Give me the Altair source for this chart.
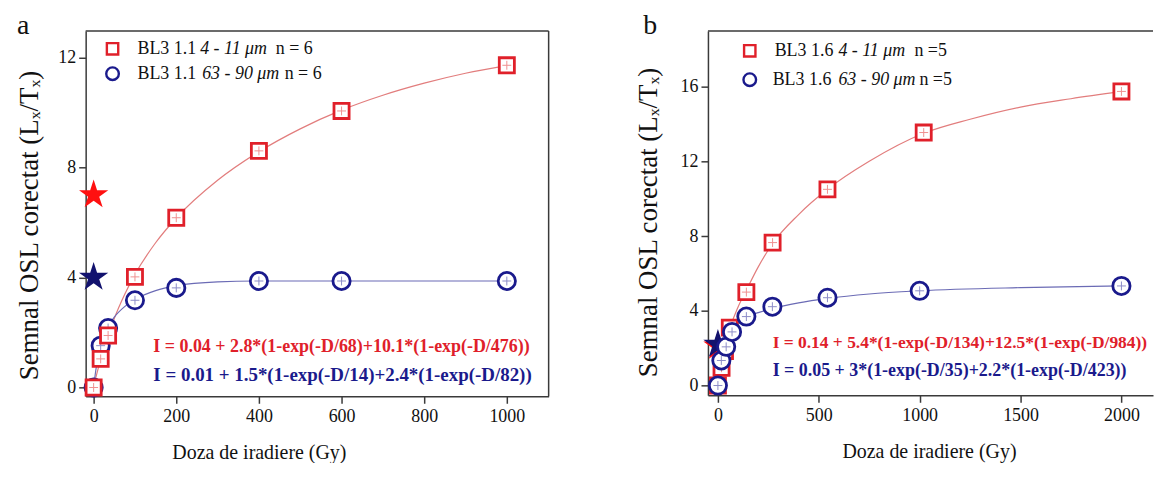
import altair as alt
import pandas as pd

FONT = "Liberation Serif"
RED = "#e0202a"
BLUE = "#1a1a8c"
RED_FIT = "#e27d7d"
BLUE_FIT = "#6b6bb5"
RED_TICK = "#f09090"
BLUE_TICK = "#8c8cc8"
STAR_RED = "#ff1010"
STAR_BLUE = "#12126e"
AXIS_C = "#3a3a3a"
TEXT_C = "#111111"

STAR = ("M0,-1L0.2245,-0.309L0.951,-0.309L0.363,0.118L0.588,0.809L0,0.382"
        "L-0.588,0.809L-0.363,0.118L-0.951,-0.309L-0.2245,-0.309Z")
CROSS = "M-1,0L1,0M0,-1L0,1"

X_TITLE = "Doza de iradiere (Gy)"
Y_TITLE = "Semnal OSL corectat (Lₓ/Tₓ)"

# ---------------- panel a data ----------------
a_dose = [0, 17, 35, 100, 200, 400, 600, 1000]
a_fine = [0.0, 1.04, 1.89, 4.02, 6.17, 8.60, 10.05, 11.71]
a_coarse = [0.0, 1.52, 2.16, 3.17, 3.62, 3.87, 3.87, 3.87]
a_star_red = [7.0]
a_star_blue = [4.0]
a_fitf_dose = [0, 10, 20, 35, 50, 75, 100, 150, 200, 300, 400, 500, 600, 700, 800, 900, 1000]
a_fitf = [0.04, 0.63, 1.17, 1.88, 2.51, 3.38, 4.11, 5.26, 6.16, 7.53, 8.57, 9.40, 10.08, 10.62, 11.06, 11.42, 11.70]
a_fitc_dose = [0, 5, 10, 17, 25, 35, 50, 75, 100, 150, 200, 300, 400, 600, 1000]
a_fitc = [0.01, 0.60, 1.05, 1.51, 1.89, 2.22, 2.56, 2.94, 3.20, 3.52, 3.70, 3.84, 3.87, 3.87, 3.87]

# ---------------- panel b data ----------------
b_fine_dose = [0, 18, 35, 59, 141, 271, 543, 1020, 2000]
b_fine = [0.0, 0.95, 1.85, 3.10, 5.00, 7.65, 10.50, 13.54, 15.74]
b_coarse_dose = [0, 17, 41, 70, 141, 270, 543, 1000, 2000]
b_coarse = [0.0, 1.34, 2.07, 2.87, 3.69, 4.22, 4.70, 5.07, 5.33]
b_star_red = [2.1]
b_star_blue = [2.2]
b_fitf_dose = [0, 10, 20, 35, 60, 100, 141, 200, 271, 400, 543, 750, 1020, 1250, 1500, 1750, 2000]
b_fitf = [0.1, 0.55, 1.05, 1.85, 3.05, 4.2, 5.1, 6.35, 7.6, 9.15, 10.5, 12.0, 13.5, 14.25, 14.9, 15.35, 15.74]
b_fitc_dose = [0, 10, 17, 25, 41, 70, 100, 141, 200, 270, 400, 543, 750, 1000, 1500, 2000]
b_fitc = [0.05, 0.85, 1.29, 1.71, 2.2, 2.95, 3.34, 3.65, 3.9, 4.12, 4.42, 4.66, 4.9, 5.07, 5.24, 5.33]

a_leg = [["BL3 1.1", "4 - 11 μm", "n = 6"], ["BL3 1.1", "63 - 90 μm", "n = 6"]]
b_leg = [["BL3 1.6", "4 - 11 μm", "n =5"], ["BL3 1.6", "63 - 90 μm", "n =5"]]
a_eq = ["I = 0.04 + 2.8*(1-exp(-D/68)+10.1*(1-exp(-D/476))",
        "I = 0.01 + 1.5*(1-exp(-D/14)+2.4*(1-exp(-D/82))"]
b_eq = ["I = 0.14 + 5.4*(1-exp(-D/134)+12.5*(1-exp(-D/984))",
        "I = 0.05 + 3*(1-exp(-D/35)+2.2*(1-exp(-D/423))"]


def frame(d, v):
    return pd.DataFrame({"D": d, "L": v})


def one():
    return pd.DataFrame({"k": [0]})


def txt(s, x, y, size, color=TEXT_C, weight="normal", style="normal", align="left",
        baseline="middle", clip=False):
    return alt.Chart(pd.DataFrame({"t": [s]})).mark_text(
        font=FONT, fontSize=size, color=color, fontWeight=weight, fontStyle=style,
        align=align, baseline=baseline, clip=clip
    ).encode(x=alt.value(x), y=alt.value(y), text="t:N")


def panel(W, H, xdom, ydom, xticks, yticks, title_x, ytp, yty,
          fine_d, fine_v, coarse_d, coarse_v, fitf, fitc, star_r, star_b,
          red_on_top, legend, leg_pos, eqs, eq_pos, eq_size, label, label_x, right_border):
    X = alt.X("D:Q", scale=alt.Scale(domain=xdom, nice=False, zero=False),
              axis=alt.Axis(values=xticks, format="d", title=X_TITLE, titleX=title_x,
                            titlePadding=17, labelPadding=4))
    Y = alt.Y("L:Q", scale=alt.Scale(domain=ydom, nice=False, zero=False),
              axis=alt.Axis(values=yticks, format="d", title=Y_TITLE, titlePadding=ytp,
                            titleY=yty, labelPadding=3))

    layers = []
    layers.append(alt.Chart(frame(*fitf)).mark_line(color=RED_FIT, strokeWidth=1.2,
                                                    interpolate="monotone").encode(x=X, y=Y))
    layers.append(alt.Chart(frame(*fitc)).mark_line(color=BLUE_FIT, strokeWidth=1.2,
                                                    interpolate="monotone").encode(x=X, y=Y))

    def squares():
        return [
            alt.Chart(frame(fine_d, fine_v)).mark_point(
                shape="square", size=230, filled=True, fill="white", stroke=RED,
                strokeWidth=2.8, opacity=1).encode(x=X, y=Y),
            alt.Chart(frame(fine_d, fine_v)).mark_point(
                shape=CROSS, size=80, filled=False, stroke=RED_TICK, strokeWidth=1,
                opacity=1).encode(x=X, y=Y),
        ]

    def circles():
        return [
            alt.Chart(frame(coarse_d, coarse_v)).mark_point(
                shape="circle", size=300, filled=True, fill="white", stroke=BLUE,
                strokeWidth=2.8, opacity=1).encode(x=X, y=Y),
            alt.Chart(frame(coarse_d, coarse_v)).mark_point(
                shape=CROSS, size=80, filled=False, stroke=BLUE_TICK, strokeWidth=1,
                opacity=1).encode(x=X, y=Y),
        ]

    stars = [
        alt.Chart(frame([0], star_r)).mark_point(shape=STAR, size=950, filled=True,
                                                 color=STAR_RED, opacity=1).encode(x=X, y=Y),
        alt.Chart(frame([0], star_b)).mark_point(shape=STAR, size=950, filled=True,
                                                 color=STAR_BLUE, opacity=1).encode(x=X, y=Y),
    ]
    if red_on_top:
        layers += circles() + squares() + stars
    else:
        layers += squares() + stars + circles()

    # borders (box)
    layers.append(alt.Chart(one()).mark_rule(color=AXIS_C, strokeWidth=1.5).encode(
        x=alt.value(0), x2=alt.value(W), y=alt.value(0)))
    if right_border:
        layers.append(alt.Chart(one()).mark_rule(color=AXIS_C, strokeWidth=1.5).encode(
            x=alt.value(W), y=alt.value(0), y2=alt.value(H)))

    # legend
    sx, ys, seg1, seg2, ends = leg_pos
    layers.append(alt.Chart(one()).mark_point(shape="square", size=130, filled=False,
                                              stroke=RED, strokeWidth=2.4, opacity=1)
                  .encode(x=alt.value(sx), y=alt.value(ys[0])))
    layers.append(alt.Chart(one()).mark_point(shape="circle", size=160, filled=False,
                                              stroke=BLUE, strokeWidth=2.4, opacity=1)
                  .encode(x=alt.value(sx), y=alt.value(ys[1])))
    for i, row in enumerate(legend):
        layers.append(txt(row[0], seg1[i], ys[i], 18))
        layers.append(txt(row[1], seg2[i], ys[i], 18, style="italic"))
        layers.append(txt(row[2], ends[i], ys[i], 18, align="right"))

    # equations
    ex, ey = eq_pos
    layers.append(txt(eqs[0], ex, ey[0], eq_size[0], color=RED, weight="bold", clip=True))
    layers.append(txt(eqs[1], ex, ey[1], eq_size[1], color=BLUE, weight="bold", clip=True))

    # panel label
    layers.append(txt(label, label_x, 3, 28, baseline="alphabetic"))

    return alt.layer(*layers).properties(width=W, height=H)


WA, HA = 465, 367
WB, HB = 447, 366

pa = panel(WA, HA, [-19.3, 1101.2], [-0.32, 12.96], [0, 200, 400, 600, 800, 1000],
           [0, 4, 8, 12], 174, 14, 195,
           a_dose, a_fine, a_dose, a_coarse, (a_fitf_dose, a_fitf), (a_fitc_dose, a_fitc),
           a_star_red, a_star_blue, True, a_leg,
           (27, [18, 43], [52, 52], [115, 117], [228, 237]),
           a_eq, (68, [318, 346]), (18, 19), "a", -69, True)

pb = panel(WB, HB, [-49.4, 2156.5], [-0.523, 18.98], [0, 500, 1000, 1500, 2000],
           [0, 4, 8, 12, 16], 222, 17.5, 192,
           b_fine_dose, b_fine, b_coarse_dose, b_coarse, (b_fitf_dose, b_fitf),
           (b_fitc_dose, b_fitc), b_star_red, b_star_blue, False, b_leg,
           (42, [20, 49], [67, 65], [131, 131], [240, 245]),
           b_eq, (65, [313, 342]), (17.5, 18), "b", -65, False)

chart = alt.hconcat(pa, pb, spacing=85).properties(
    padding={"left": 8, "top": 3, "right": 0, "bottom": 0}
).configure_view(stroke=None).configure_axis(
    domainColor=AXIS_C, domainWidth=1.5, tickColor=AXIS_C, tickWidth=1.5, tickSize=7,
    labelFont=FONT, labelFontSize=18, labelColor=TEXT_C,
    titleFont=FONT, titleFontSize=20, titleFontWeight="normal", titleColor=TEXT_C,
    grid=False
).configure_axisY(titleFontSize=27)

chart.save("out.html", embed_options={"renderer": "svg", "actions": False})
